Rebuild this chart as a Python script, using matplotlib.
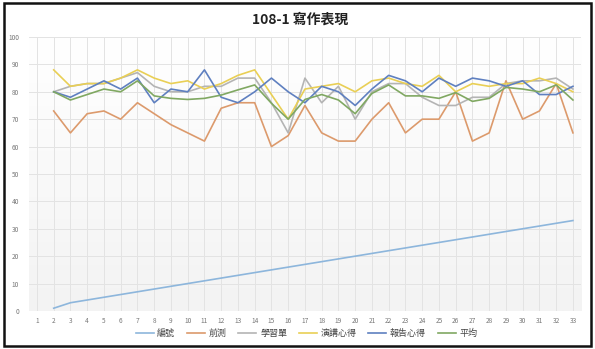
import matplotlib.pyplot as plt
import numpy as np
from matplotlib.patches import Rectangle

plt.rcParams['font.family'] = ['Noto Sans CJK TC', 'DejaVu Sans']

categories = list(range(1, 34))
# data starts at category 2
x_data = list(range(2, 34))

bianhao = [1] + list(range(3, 34))
qiance = [73, 65, 72, 73, 70, 76, 72, 68, 65, 62, 74, 76, 76, 60, 64, 75,
          65, 62, 62, 70, 76, 65, 70, 70, 80, 62, 65, 84, 70, 73, 83, 65]
xuexidan = [80, 82, 83, 83, 85, 87, 82, 80, 80, 82, 82, 85, 85, 76, 65, 85,
            76, 82, 70, 80, 83, 83, 78, 75, 75, 78, 78, 83, 84, 84, 85, 81]
yanjiang = [88, 82, 83, 83, 85, 88, 85, 83, 84, 81, 83, 86, 88, 79, 70, 81,
            82, 83, 80, 84, 85, 83, 82, 86, 80, 83, 82, 83, 83, 85, 83, 80]
baogao = [80, 78, 81, 84, 81, 85, 76, 81, 80, 88, 78, 76, 80, 85, 80, 76,
          82, 80, 75, 81, 86, 84, 80, 85, 82, 85, 84, 82, 84, 79, 79, 82]
pingjun = [80, 77, 79, 81, 80, 84, 78.5, 77.6, 77.2, 77.6, 78.8, 80.7, 82.5, 75.8, 70, 77.2,
           79, 77, 72, 79.4, 82.5, 78.5, 78.5, 77.6, 79.7, 76.5, 77.6, 81.6, 81, 80, 82.5, 77]

series = [
    ("編號", bianhao, "#8db6dc"),
    ("前測", qiance, "#dc9a6c"),
    ("學習單", xuexidan, "#b4b4b4"),
    ("演講心得", yanjiang, "#e9cf55"),
    ("報告心得", baogao, "#5f80c0"),
    ("平均", pingjun, "#80a862"),
]

fig = plt.figure(figsize=(5.95, 3.49), dpi=100)
ax = fig.add_axes([0.048, 0.109, 0.929, 0.785])

# faint gradient background like the excel plot area
grad = np.linspace(0, 1, 256).reshape(-1, 1)
ax.imshow(grad, extent=[0.5, 33.5, 0, 100], aspect='auto', origin='lower',
          cmap=plt.matplotlib.colors.LinearSegmentedColormap.from_list('g', ['#f3f3f3', '#ffffff']),
          zorder=0)

for label, vals, color in series:
    ax.plot(x_data, vals, color=color, lw=1.2, label=label, zorder=3)

ax.set_xlim(0.5, 33.5)
ax.set_ylim(0, 100)
ax.set_xticks(categories)
ax.set_xticklabels([str(c) for c in categories])
ax.set_yticks(range(0, 101, 10))
ax.grid(True, color='#e3e3e3', lw=0.7, zorder=1)
ax.tick_params(length=0, labelsize=4.7, labelcolor='#777777')
ax.tick_params(axis='y', pad=7)
ax.tick_params(axis='x', pad=4)
for s in ax.spines.values():
    s.set_visible(False)

fig.text(0.505, 0.945, "108-1 寫作表現", ha='center', va='center',
         fontsize=10, fontweight='bold', color='#222222')

fig.legend(loc='center', bbox_to_anchor=(0.515, 0.045), ncol=6, frameon=False,
           fontsize=6.5, handlelength=2.0, columnspacing=1.3, handletextpad=0.4,
           labelcolor='#444444')

# outer frame
fig.patches.append(Rectangle((0.006, 0.01), 0.988, 0.982, transform=fig.transFigure,
                             fill=False, edgecolor='#111111', lw=1.8))

fig.savefig('out.png', dpi=100)
